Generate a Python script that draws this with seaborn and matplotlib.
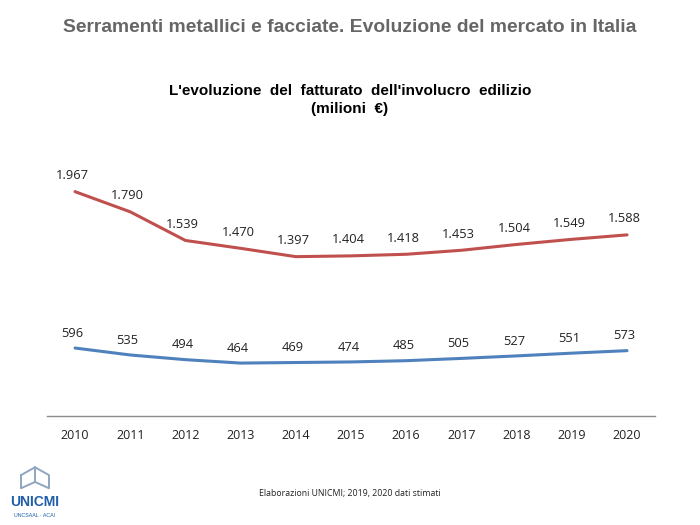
import pandas as pd
import matplotlib.pyplot as plt
import seaborn as sns

anni = [2010, 2011, 2012, 2013, 2014, 2015, 2016, 2017, 2018, 2019, 2020]
involucro = [1967, 1790, 1539, 1470, 1397, 1404, 1418, 1453, 1504, 1549, 1588]
serramenti = [596, 535, 494, 464, 469, 474, 485, 505, 527, 551, 573]

rosso = '#C0504D'
blu = '#4F81BD'

sns.set_theme(style='white')
plt.rcParams['font.family'] = ['Open Sans', 'DejaVu Sans']

data = pd.DataFrame({'anno': anni * 2,
                     'valore': involucro + serramenti,
                     'serie': ['involucro'] * len(anni) + ['serramenti'] * len(anni)})

fig = plt.figure(figsize=(7, 5.25), dpi=100)
ax = fig.add_axes([0.067, 0.2076, 0.869, 0.526])

sns.lineplot(data=data, x='anno', y='valore', hue='serie',
             palette={'involucro': rosso, 'serramenti': blu},
             linewidth=2.2, legend=False, ax=ax)

def fmt(v):
    return f'{v:,}'.replace(',', '.')

for x, y in zip(anni, involucro):
    ax.annotate(fmt(y), (x, y), xytext=(-2, 7), textcoords='offset points',
                ha='center', va='bottom', fontsize=9.3, color='#222222')
for x, y in zip(anni, serramenti):
    ax.annotate(fmt(y), (x, y), xytext=(-2, 6), textcoords='offset points',
                ha='center', va='bottom', fontsize=9.3, color='#222222')

ax.set_xlim(2009.49, 2020.51)
ax.set_ylim(0, 2421)
ax.set_xticks(anni)
ax.set_xticklabels([str(a) for a in anni], fontsize=9, color='#222222')
ax.set_yticks([])
ax.set_xlabel('')
ax.set_ylabel('')
ax.tick_params(axis='x', length=0, pad=9)
for s in ['top', 'right', 'left']:
    ax.spines[s].set_visible(False)
ax.spines['bottom'].set_color('#8c8c8c')
ax.spines['bottom'].set_linewidth(1.0)

titolo_font = ['Liberation Sans Narrow', 'Liberation Sans', 'DejaVu Sans']
fig.text(0.5, 0.947, 'Serramenti metallici e facciate. Evoluzione del mercato in Italia',
         ha='center', va='center', fontsize=13.9, fontweight='bold',
         color='#666666', family=titolo_font)
fig.text(0.5, 0.81, "L'evoluzione  del  fatturato  dell'involucro  edilizio\n(milioni  €)",
         ha='center', va='center', fontsize=11, fontweight='bold',
         color='black', family=titolo_font, linespacing=1.4)
fig.text(0.5, 0.06, 'Elaborazioni UNICMI; 2019, 2020 dati stimati',
         ha='center', va='center', fontsize=6.3, color='#222222')

# logo
fig.text(0.05, 0.044, 'UNICMI', ha='center', va='center', fontsize=10,
         fontweight='bold', color='#1F5EA8', family=['Liberation Sans', 'DejaVu Sans'])
fig.text(0.05, 0.018, 'UNCSAAL · ACAI', ha='center', va='center', fontsize=3.8,
         color='#1F5EA8', family=['Liberation Sans', 'DejaVu Sans'])
lx = [0.03, 0.05, 0.07, 0.07, 0.05, 0.03, 0.03]
ly = [0.095, 0.11, 0.095, 0.07, 0.082, 0.07, 0.095]
fig.add_artist(plt.Line2D(lx, ly, color='#8FA6BF', linewidth=1.4))
fig.add_artist(plt.Line2D([0.05, 0.05], [0.082, 0.11], color='#8FA6BF', linewidth=1.4))

fig.savefig('out.png', dpi=100)
